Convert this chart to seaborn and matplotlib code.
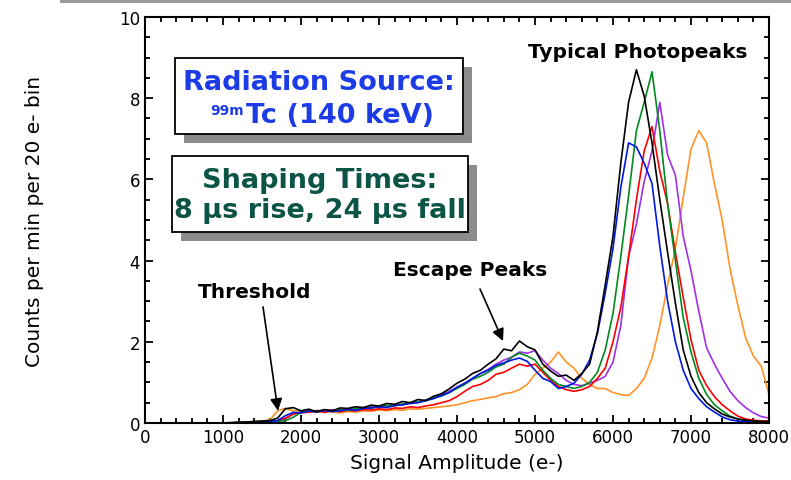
import pandas as pd
import matplotlib.pyplot as plt
import numpy as np
import seaborn as sns
from matplotlib.patches import Rectangle

# signal amplitude (e-), one reading every 100 e- from 1000 to 8000
amplitude = list(range(1000, 8001, 100))

black = [0.0, 0.01, 0.02, 0.02, 0.04, 0.05, 0.06, 0.12, 0.35, 0.38,
         0.30, 0.34, 0.28, 0.33, 0.30, 0.37, 0.36, 0.40, 0.38, 0.44,
         0.42, 0.48, 0.46, 0.53, 0.50, 0.58, 0.55, 0.66, 0.72, 0.84,
         0.98, 1.08, 1.22, 1.30, 1.45, 1.58, 1.82, 1.78, 2.02, 1.88,
         1.80, 1.45, 1.28, 1.15, 1.18, 1.05, 1.22, 1.45, 2.25, 3.40,
         4.60, 6.40, 7.90, 8.70, 8.05, 6.90, 5.50, 4.20, 2.95, 1.80,
         1.15, 0.75, 0.50, 0.35, 0.22, 0.15, 0.10, 0.07, 0.05, 0.04,
         0.04]
blue = [0.0, 0.0, 0.01, 0.02, 0.03, 0.03, 0.04, 0.06, 0.18, 0.26,
        0.25, 0.30, 0.27, 0.31, 0.28, 0.30, 0.34, 0.31, 0.36, 0.37,
        0.40, 0.38, 0.43, 0.45, 0.48, 0.50, 0.55, 0.60, 0.68, 0.75,
        0.88, 0.98, 1.10, 1.22, 1.30, 1.42, 1.48, 1.55, 1.60, 1.52,
        1.30, 1.10, 1.02, 0.85, 0.90, 0.98, 1.20, 1.55, 2.20, 3.20,
        4.30, 5.80, 6.90, 6.80, 6.40, 5.90, 4.35, 3.00, 2.00, 1.30,
        0.85, 0.60, 0.40, 0.27, 0.15, 0.08, 0.05, 0.03, 0.02, 0.02,
        0.02]
green = [0.0, 0.0, 0.0, 0.01, 0.02, 0.02, 0.03, 0.04, 0.06, 0.14,
         0.26, 0.30, 0.28, 0.32, 0.30, 0.33, 0.31, 0.36, 0.38, 0.37,
         0.41, 0.43, 0.42, 0.47, 0.50, 0.52, 0.56, 0.62, 0.66, 0.75,
         0.85, 0.95, 1.08, 1.15, 1.25, 1.38, 1.45, 1.62, 1.72, 1.65,
         1.55, 1.30, 1.10, 0.95, 0.90, 0.85, 0.90, 1.00, 1.25, 1.80,
         2.70, 4.10, 5.60, 7.20, 7.90, 8.65, 7.20, 5.40, 4.00, 2.60,
         1.75, 1.10, 0.70, 0.45, 0.30, 0.17, 0.10, 0.06, 0.04, 0.03,
         0.03]
red = [0.0, 0.0, 0.0, 0.01, 0.02, 0.02, 0.03, 0.05, 0.12, 0.22,
       0.25, 0.27, 0.30, 0.26, 0.30, 0.28, 0.31, 0.30, 0.33, 0.32,
       0.35, 0.33, 0.37, 0.36, 0.40, 0.38, 0.42, 0.45, 0.50, 0.55,
       0.65, 0.78, 0.90, 0.95, 1.05, 1.20, 1.25, 1.35, 1.45, 1.40,
       1.45, 1.25, 1.05, 0.90, 0.82, 0.78, 0.82, 0.90, 1.10, 1.35,
       2.00, 2.85, 4.10, 5.50, 6.70, 7.30, 6.20, 5.40, 4.20, 3.10,
       2.05, 1.30, 0.92, 0.65, 0.45, 0.30, 0.17, 0.10, 0.07, 0.05,
       0.05]
purple = [0.0, 0.0, 0.0, 0.01, 0.02, 0.02, 0.03, 0.05, 0.10, 0.22,
          0.28, 0.26, 0.31, 0.29, 0.33, 0.30, 0.35, 0.33, 0.37, 0.40,
          0.38, 0.42, 0.45, 0.44, 0.50, 0.52, 0.57, 0.62, 0.70, 0.78,
          0.88, 0.98, 1.10, 1.22, 1.32, 1.45, 1.55, 1.62, 1.75, 1.72,
          1.78, 1.55, 1.35, 1.22, 1.05, 0.95, 0.92, 0.98, 1.05, 1.15,
          1.50, 2.40, 4.10, 4.90, 5.95, 6.70, 7.90, 6.60, 6.10, 4.60,
          3.75, 2.75, 1.85, 1.45, 1.10, 0.78, 0.55, 0.38, 0.25, 0.16,
          0.12]
orange = [0.0, 0.01, 0.02, 0.02, 0.03, 0.04, 0.08, 0.30, 0.36, 0.30,
          0.30, 0.28, 0.26, 0.30, 0.27, 0.25, 0.28, 0.27, 0.30, 0.29,
          0.32, 0.30, 0.33, 0.31, 0.35, 0.34, 0.36, 0.38, 0.40, 0.42,
          0.45, 0.50, 0.55, 0.58, 0.62, 0.65, 0.72, 0.75, 0.82, 0.95,
          1.20, 1.35, 1.50, 1.75, 1.50, 1.35, 1.10, 0.95, 0.85, 0.85,
          0.75, 0.70, 0.68, 0.85, 1.10, 1.60, 2.40, 3.40, 4.30, 5.55,
          6.75, 7.20, 6.90, 5.90, 5.00, 3.80, 2.90, 2.10, 1.65, 1.40,
          0.70]

runs = {'orange': orange, 'purple': purple, 'red': red,
        'green': green, 'blue': blue, 'black': black}
colors = {'orange': '#ff9326', 'purple': '#a030e8', 'red': '#ff0000',
          'green': '#008a20', 'blue': '#0018e0', 'black': '#000000'}

df = pd.concat([pd.DataFrame({'amp': amplitude, 'counts': v, 'run': k})
                for k, v in runs.items()], ignore_index=True)

sns.set_style('ticks')
plt.rcParams['font.family'] = ['DejaVu Sans']
plt.rcParams['text.color'] = 'black'
plt.rcParams['axes.labelcolor'] = 'black'

fig = plt.figure(figsize=(7.91, 4.81), dpi=100)
ax = fig.add_axes([0.1833, 0.1185, 0.7889, 0.8441])

sns.lineplot(data=df, x='amp', y='counts', hue='run', palette=colors,
             estimator=None, sort=False, legend=False, linewidth=1.2, ax=ax)

ax.set_xlim(0, 8000)
ax.set_ylim(0, 10)
ax.set_xticks(range(0, 8001, 1000))
ax.set_xticks(range(0, 8001, 200), minor=True)
ax.set_yticks(range(0, 11, 2))
ax.set_yticks(np.arange(0, 10.1, 0.5), minor=True)
ax.tick_params(which='both', direction='in', top=True, right=True,
               width=1.3, labelsize=12, colors='black')
ax.tick_params(which='major', length=6)
ax.tick_params(which='minor', length=3.5)
for s in ax.spines.values():
    s.set_linewidth(1.5)
    s.set_color('black')
ax.set_xlabel('Signal Amplitude (e-)', fontsize=14.5)
ax.set_ylabel('Counts per min per 20 e- bin', fontsize=14.5)
ax.xaxis.set_label_coords(0.5, -0.074)
ax.yaxis.set_label_coords(-0.162, 0.5)

# annotations
ax.text(6321, 9.16, 'Typical Photopeaks', ha='center', va='center',
        fontsize=14.5, fontweight='bold')
ax.text(4167, 3.79, 'Escape Peaks', ha='center', va='center',
        fontsize=14.5, fontweight='bold')
ax.text(1410, 3.23, 'Threshold', ha='center', va='center',
        fontsize=14.5, fontweight='bold')
arrow = dict(arrowstyle='-|>', color='black', lw=1.2, mutation_scale=18,
             shrinkA=0, shrinkB=0)
ax.annotate('', xy=(1705, 0.3), xytext=(1513, 2.86), arrowprops=arrow)
ax.annotate('', xy=(4590, 2.02), xytext=(4295, 3.3), arrowprops=arrow)

# boxed notes with drop shadows (pixel positions on the 791x481 canvas)
W, H = 791, 481


def box(x0, y0, x1, y1, off=9):
    fig.add_artist(Rectangle(((x0 + off) / W, 1 - (y1 + off) / H),
                             (x1 - x0) / W, (y1 - y0) / H, transform=fig.transFigure,
                             facecolor='#8c8c8c', edgecolor='none', zorder=5))
    fig.add_artist(Rectangle((x0 / W, 1 - y1 / H), (x1 - x0) / W, (y1 - y0) / H,
                             transform=fig.transFigure, facecolor='white',
                             edgecolor='black', linewidth=1.3, zorder=6))


box(175, 59, 463, 135)
box(172, 157, 468, 233)

blue_txt = '#1c3ce6'
green_txt = '#0b5446'
fig.text(319 / W, 1 - 90 / H, 'Radiation Source:', ha='center', va='baseline',
         fontsize=19.5, fontweight='bold', color=blue_txt, zorder=7)
fig.text(210 / W, 1 - 115 / H, '99m', ha='left', va='baseline',
         fontsize=10, fontweight='bold', color=blue_txt, zorder=7)
fig.text(246 / W, 1 - 123 / H, 'Tc (140 keV)', ha='left', va='baseline',
         fontsize=19.5, fontweight='bold', color=blue_txt, zorder=7)
fig.text(320 / W, 1 - 188 / H, 'Shaping Times:', ha='center', va='baseline',
         fontsize=19.5, fontweight='bold', color=green_txt, zorder=7)
fig.text(320 / W, 1 - 218 / H, '8 \u03bcs rise, 24 \u03bcs fall', ha='center',
         va='baseline', fontsize=19.5, fontweight='bold', color=green_txt, zorder=7)

# grey bar along the top edge
fig.add_artist(Rectangle((60 / W, 1 - 4 / H), 1, 4 / H, transform=fig.transFigure,
                         facecolor='#999999', edgecolor='none'))

fig.savefig('out.png', dpi=100)
